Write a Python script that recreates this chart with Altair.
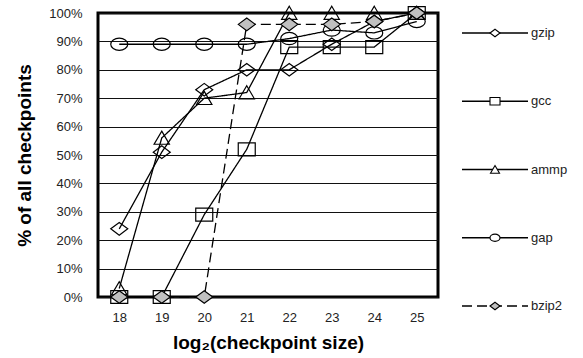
import altair as alt
import pandas as pd

# ---- data ----
sizes = [18, 19, 20, 21, 22, 23, 24, 25]
series_names = ["gzip", "gcc", "ammp", "gap", "bzip2"]
gzip = [0.24, 0.51, 0.73, 0.80, 0.80, 0.89, 0.97, 1.00]
gcc = [0.00, 0.00, 0.29, 0.52, 0.88, 0.88, 0.88, 1.00]
ammp = [0.03, 0.56, 0.70, 0.72, 1.00, 1.00, 1.00, 1.00]
gap = [0.89, 0.89, 0.89, 0.89, 0.91, 0.94, 0.93, 0.97]
bzip2 = [0.00, 0.00, 0.00, 0.96, 0.96, 0.96, 0.97, 1.00]
y_ticks = [i / 10 for i in range(11)]

FONT = "Liberation Sans, Arial, Helvetica, sans-serif"

# ---- marker shapes (slightly flattened, as in the reference) ----
DIAMOND = "M-1,0L0,-0.74L1,0L0,0.74Z"
SQUARE = "M-1,-0.76L1,-0.76L1,0.76L-1,0.76Z"
TRIANGLE = "M0,-0.8L0.9,0.74L-0.9,0.74Z"
ELLIPSE = ("M-1,0C-1,-0.3977,-0.5523,-0.72,0,-0.72C0.5523,-0.72,1,-0.3977,1,0"
           "C1,0.3977,0.5523,0.72,0,0.72C-0.5523,0.72,-1,0.3977,-1,0Z")

shape_scale = alt.Scale(domain=series_names, range=[DIAMOND, SQUARE, TRIANGLE, ELLIPSE, DIAMOND])
fill_scale = alt.Scale(domain=series_names,
                       range=["transparent", "transparent", "transparent", "transparent", "#c0c0c0"])
dash_scale = alt.Scale(domain=series_names, range=[[1, 0], [1, 0], [1, 0], [1, 0], [10, 5]])
width_scale = alt.Scale(domain=series_names, range=[1.3, 1.3, 1.3, 1.3, 2.0])

rows = []
for i, (name, vals) in enumerate(zip(series_names, [gzip, gcc, ammp, gap, bzip2])):
    for s, v in zip(sizes, vals):
        rows.append({"series": name, "order": i, "size": s, "pct": v})
df = pd.DataFrame(rows)

x_enc = alt.X("size:O", scale=alt.Scale(type="point", padding=0.5),
              axis=alt.Axis(title="log₂(checkpoint size)", labelAngle=0, ticks=False, tickSize=0,
                            domain=False, grid=False, labelPadding=14, labelFont=FONT,
                            labelFontSize=13, labelColor="#222",
                            titleFont=FONT, titleFontSize=19, titleFontWeight="bold",
                            titleColor="black", titleY=51, titleBaseline="alphabetic"))
y_enc = alt.Y("pct:Q", scale=alt.Scale(domain=[0, 1], nice=False),
              axis=alt.Axis(values=y_ticks, format=".0%", grid=True, gridColor="#111",
                            gridWidth=1, ticks=False, tickSize=0, domain=False,
                            labelPadding=16, labelFont=FONT, labelFontSize=13, labelColor="#222",
                            title="% of all checkpoints", titleFont=FONT, titleFontSize=19,
                            titleFontWeight="bold", titleColor="black", titleAngle=270,
                            titleX=-74, titleY=142, titleBaseline="middle", titleAlign="center"))

lines = alt.Chart(df).mark_line(color="black").encode(
    x=x_enc, y=y_enc,
    detail="series:N",
    strokeDash=alt.StrokeDash("series:N", scale=dash_scale, legend=None),
    strokeWidth=alt.StrokeWidth("series:N", scale=width_scale, legend=None),
    order="size:Q",
)
points = alt.Chart(df).mark_point(filled=False, stroke="black", strokeWidth=1.2, opacity=1).encode(
    x=x_enc, y=y_enc,
    shape=alt.Shape("series:N", scale=shape_scale, legend=None),
    fill=alt.Fill("series:N", scale=fill_scale, legend=None),
    size=alt.value(289),
    order="order:Q",
)
main = alt.layer(lines, points)

# ---- hand-built legend (line + marker + label) ----
leg_rows = []
for name in series_names:
    leg_rows.append({"series": name, "lx": 0.0})
    leg_rows.append({"series": name, "lx": 1.0})
leg_df = pd.DataFrame(leg_rows)
leg_pts = pd.DataFrame({"series": series_names, "lx": [0.5] * len(series_names)})
leg_txt = pd.DataFrame({"series": series_names, "lx": [1.0] * len(series_names)})

lx_enc = alt.X("lx:Q", scale=alt.Scale(domain=[0, 1], range=[364, 430]), axis=None)
ly_enc = alt.Y("series:N", scale=alt.Scale(type="point", domain=series_names, range=[20, 293], padding=0),
               axis=None)

leg_lines = alt.Chart(leg_df).mark_line(color="black").encode(
    x=lx_enc, y=ly_enc, detail="series:N",
    strokeDash=alt.StrokeDash("series:N", scale=dash_scale, legend=None),
    strokeWidth=alt.StrokeWidth("series:N", scale=width_scale, legend=None),
)
leg_marks = alt.Chart(leg_pts).mark_point(filled=False, stroke="black", strokeWidth=1.1, opacity=1).encode(
    x=lx_enc, y=ly_enc,
    shape=alt.Shape("series:N", scale=shape_scale, legend=None),
    fill=alt.Fill("series:N", scale=alt.Scale(domain=series_names,
                                               range=["white", "white", "white", "white", "#c0c0c0"]),
                  legend=None),
    size=alt.value(100),
)
leg_text = alt.Chart(leg_txt).mark_text(align="left", baseline="middle", dx=3, font=FONT,
                                        fontSize=13, color="#222").encode(
    x=lx_enc, y=ly_enc, text="series:N",
)
legend = alt.layer(leg_lines, leg_marks, leg_text)

chart = alt.layer(main, legend).resolve_scale(
    x="independent", y="independent", fill="independent"
).properties(
    width=340, height=284,
    padding={"left": 98, "top": 13, "right": 145, "bottom": 61},
    autosize=alt.AutoSizeParams(type="none"),
    background="white",
).configure_view(stroke="black", strokeWidth=3)

chart.save("out.html", embed_options={"renderer": "svg", "actions": False})
